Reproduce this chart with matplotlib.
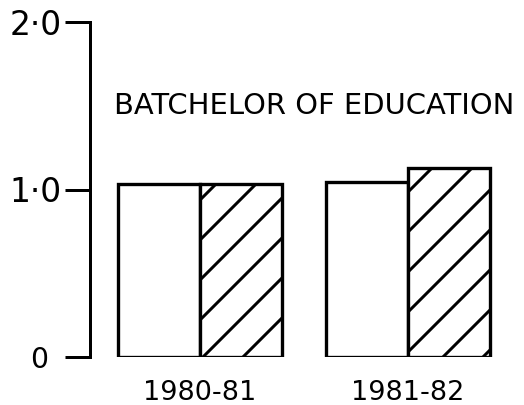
import matplotlib
matplotlib.use('Agg')
import matplotlib.pyplot as plt

# ---- data ----
years = ['1980-81', '1981-82']
white_vals = [1.03, 1.045]
hatched_vals = [1.03, 1.13]
y_ticks = [0.0, 1.0, 2.0]
y_tick_labels = ['0', '1·0', '2·0']
title = 'BATCHELOR OF EDUCATION'

group_pos = [0.0, 2.54]
bar_w = 1.0

DPI = 240
plt.rcParams['hatch.linewidth'] = 0.9
plt.rcParams['font.family'] = ['DejaVu Sans']

fig = plt.figure(figsize=(524 / DPI, 405 / DPI), dpi=DPI)
ax = fig.add_axes([90 / 524, (405 - 357) / 405, 410 / 524, 335 / 405])

white_x = [g - bar_w / 2 for g in group_pos]
hatch_x = [g + bar_w / 2 for g in group_pos]
ax.bar(white_x, white_vals, width=bar_w, color='white', edgecolor='black',
       linewidth=1.0)
ax.bar(hatch_x, hatched_vals, width=bar_w, color='white', edgecolor='black',
       linewidth=1.0, hatch='//')

ax.set_xlim(-1.34, 3.66)
ax.set_ylim(0, 2.0)

for s in ['top', 'right', 'bottom']:
    ax.spines[s].set_visible(False)
ax.spines['left'].set_linewidth(0.9)

ax.set_yticks(y_ticks)
ax.set_yticklabels(y_tick_labels, fontsize=9.9)
ax.tick_params(axis='y', length=7.5, width=0.9, pad=1)
ax.yaxis.get_major_ticks()[0].set_pad(5)
ax.yaxis.get_major_ticks()[0].label1.set_fontsize(8.5)

ax.set_xticks(group_pos)
ax.set_xticklabels(years, fontsize=8.1)
ax.tick_params(axis='x', length=0, pad=7)

ax.text(1.40, 1.50, title, fontsize=8.7, ha='center', va='center')

fig.savefig('out.png', dpi=DPI)
